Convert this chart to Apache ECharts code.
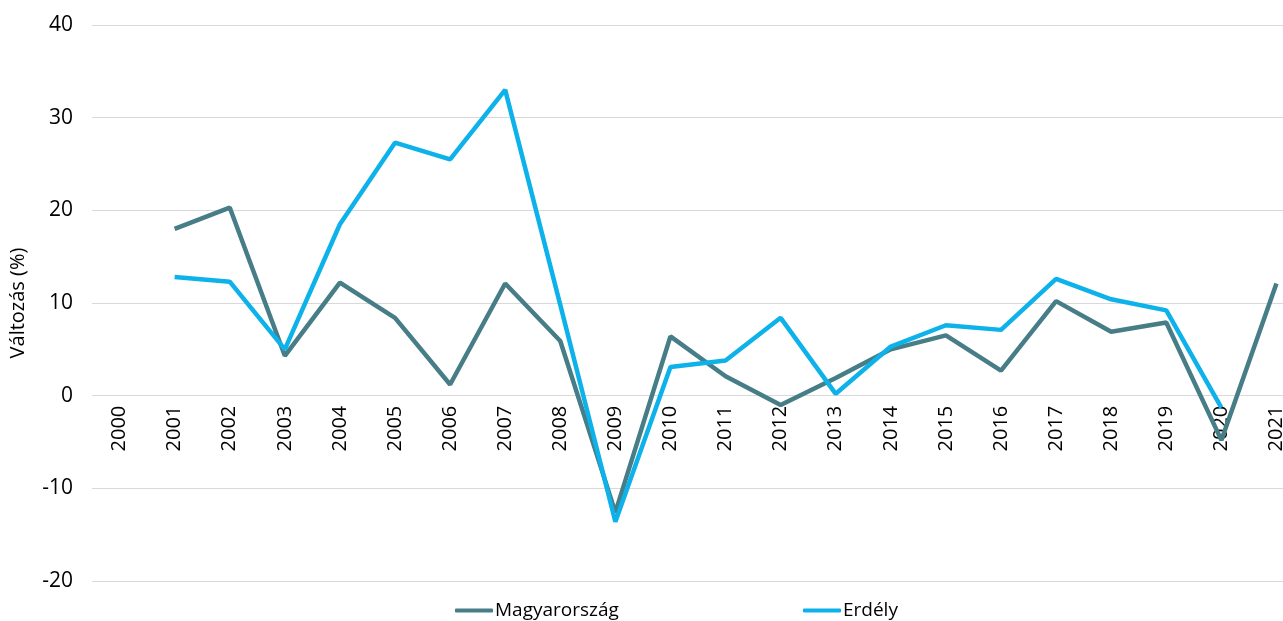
<!DOCTYPE html>
<html>
<head>
<meta charset="utf-8">
<script src="https://cdn.jsdelivr.net/npm/echarts@6/dist/echarts.min.js"></script>
<style>
	html, body { margin: 0; padding: 0; background: #fff; }
	#chart { width: 1283px; height: 621px; }
</style>
</head>
<body>
<div id="chart"></div>
<script>
	// évek
	var years = ['2000', '2001', '2002', '2003', '2004', '2005', '2006', '2007', '2008', '2009', '2010',
		'2011', '2012', '2013', '2014', '2015', '2016', '2017', '2018', '2019', '2020', '2021'];
	// Magyarország változás (%)
	var magyarorszag = [null, 18.0, 20.3, 4.3, 12.2, 8.4, 1.2, 12.1, 5.9, -12.6, 6.4,
		2.1, -1.0, 1.9, 5.0, 6.5, 2.7, 10.2, 6.9, 7.9, -4.8, 12.1];
	// Erdély változás (%)
	var erdely = [null, 12.8, 12.3, 5.0, 18.5, 27.3, 25.5, 33.0, 9.8, -13.6, 3.1,
		3.8, 8.4, 0.2, 5.3, 7.6, 7.1, 12.6, 10.4, 9.2, -1.3, null];

	var fontName = 'Open Sans';
	var myChart = echarts.init(document.getElementById('chart'));

	var option = {
		animation: false,
		textStyle: { fontFamily: fontName },
		grid: { left: 92, right: -21, top: 25, bottom: 40, containLabel: false, outerBoundsMode: 'none' },
		legend: [{
			left: 450,
			top: 596,
			icon: 'roundRect',
			itemWidth: 38,
			itemHeight: 4,
			itemGap: 0,
			textStyle: { fontSize: 19, color: '#000', fontFamily: fontName, padding: [0, 0, 0, -3] },
			data: ['Magyarország']
		}, {
			left: 798,
			top: 596,
			icon: 'roundRect',
			itemWidth: 38,
			itemHeight: 4,
			textStyle: { fontSize: 19, color: '#000', fontFamily: fontName, padding: [0, 0, 0, -3] },
			data: ['Erdély']
		}],
		xAxis: {
			type: 'category',
			data: years,
			boundaryGap: true,
			position: 'bottom',
			// a nulla vonalhoz igazítva (onZero itt nem lép életbe)
			offset: -185.3,
			axisLine: { show: false, onZero: false },
			axisTick: { show: false },
			axisLabel: {
				rotate: 90,
				margin: 10,
				fontSize: 20,
				color: '#000',
				fontFamily: fontName,
				interval: 0
			}
		},
		yAxis: {
			type: 'value',
			min: -20,
			max: 40,
			interval: 10,
			name: 'Változás (%)',
			nameLocation: 'middle',
			nameGap: 64,
			nameRotate: 90,
			nameTextStyle: { fontSize: 20, color: '#000', fontFamily: fontName },
			axisLine: { show: false },
			axisTick: { show: false },
			axisLabel: { margin: 19, fontSize: 21, color: '#000', fontFamily: fontName },
			splitLine: { lineStyle: { color: '#d9d9d9', width: 1 } }
		},
		series: [{
			name: 'Magyarország',
			type: 'line',
			data: magyarorszag,
			symbol: 'none',
			connectNulls: false,
			lineStyle: { color: '#467d87', width: 4.5 },
			itemStyle: { color: '#467d87' },
			z: 2
		}, {
			name: 'Erdély',
			type: 'line',
			data: erdely,
			symbol: 'none',
			connectNulls: false,
			lineStyle: { color: '#0db2ea', width: 4.5 },
			itemStyle: { color: '#0db2ea' },
			z: 3
		}]
	};

	myChart.setOption(option);
</script>
</body>
</html>
